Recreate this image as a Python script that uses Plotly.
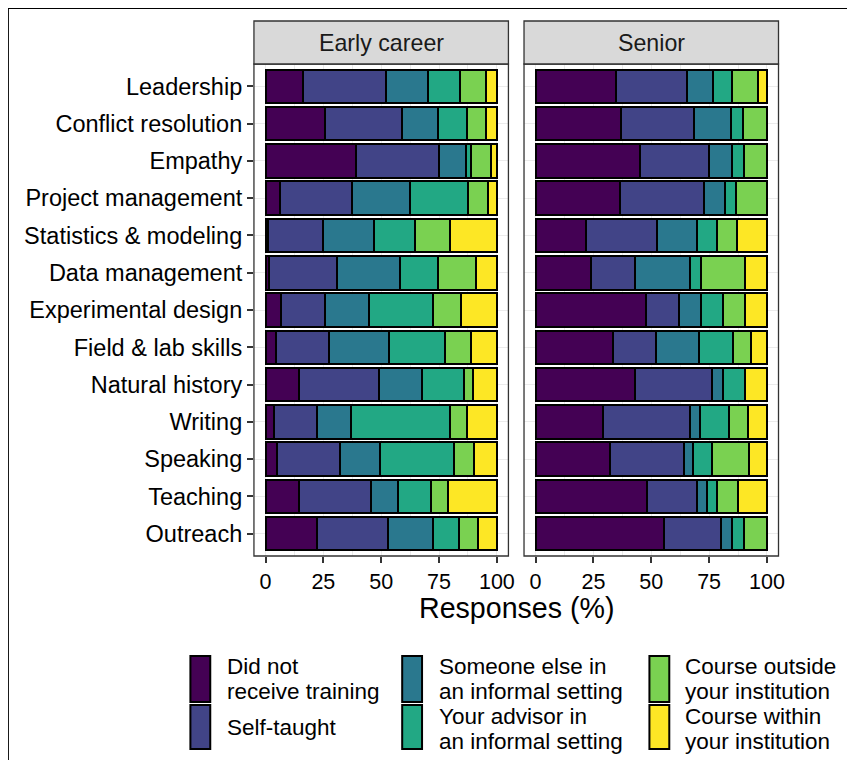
import plotly.graph_objects as go

# The page body adds an 8px margin, so the figure is drawn 8px smaller and
# all pixel positions below are given in window coordinates.
OFF = 8
W, H = 855 - OFF, 760 - OFF

skills = ["Leadership", "Conflict resolution", "Empathy", "Project management",
          "Statistics & modeling", "Data management", "Experimental design",
          "Field & lab skills", "Natural history", "Writing", "Speaking",
          "Teaching", "Outreach"]

sources = ["Did not receive training", "Self-taught",
           "Someone else in an informal setting", "Your advisor in an informal setting",
           "Course outside your institution", "Course within your institution"]

legend_lines = [["Did not", "receive training"], ["Self-taught"],
                ["Someone else in", "an informal setting"], ["Your advisor in", "an informal setting"],
                ["Course outside", "your institution"], ["Course within", "your institution"]]

colors = ["#440154", "#414487", "#2A788E", "#22A884", "#7AD151", "#FDE725"]

panels = ["Early career", "Senior"]

# Early career values (%), per source, in the order of `skills`
early_none = [16.0, 25.6, 38.9, 6.1, 1.1, 1.6, 6.7, 4.7, 14.3, 3.6, 5.1, 14.3, 22.3]
early_self = [36.0, 33.4, 36.2, 31.3, 23.6, 29.4, 19.0, 22.9, 34.7, 18.7, 27.2, 31.1, 30.6]
early_someone = [18.4, 15.4, 11.5, 25.2, 22.0, 27.3, 19.2, 25.7, 18.6, 14.7, 17.0, 11.7, 19.4]
early_advisor = [13.7, 12.9, 2.4, 25.1, 17.9, 16.4, 27.7, 24.3, 18.4, 42.9, 32.1, 14.5, 11.3]
early_outside = [11.3, 7.8, 8.6, 8.3, 15.0, 16.4, 12.1, 11.1, 3.7, 7.2, 8.7, 7.1, 8.3]
early_within = [4.6, 4.9, 2.4, 4.0, 20.4, 8.9, 15.3, 11.3, 10.3, 12.9, 9.9, 21.3, 8.1]

# Senior values (%)
senior_none = [34.7, 37.0, 45.1, 36.4, 21.7, 23.9, 47.9, 33.6, 43.1, 29.3, 32.0, 48.0, 55.4]
senior_self = [30.7, 31.6, 30.0, 36.5, 30.7, 19.1, 14.1, 18.4, 33.3, 37.6, 32.3, 21.6, 24.6]
senior_someone = [11.5, 15.7, 10.0, 9.1, 17.5, 23.9, 9.6, 18.6, 4.7, 4.1, 3.8, 4.4, 5.1]
senior_advisor = [8.0, 5.4, 5.0, 4.6, 8.7, 4.7, 9.5, 14.8, 9.6, 12.6, 8.2, 4.6, 5.0]
senior_outside = [11.4, 10.3, 9.9, 13.4, 8.5, 19.1, 9.6, 7.5, 0.0, 8.3, 16.0, 8.7, 9.9]
senior_within = [3.7, 0.0, 0.0, 0.0, 12.9, 9.3, 9.3, 7.1, 9.3, 8.1, 7.7, 12.7, 0.0]

x_ticks = [0, 25, 50, 75, 100]

panel_data = {
    "Early career": [early_none, early_self, early_someone, early_advisor, early_outside, early_within],
    "Senior": [senior_none, senior_self, senior_someone, senior_advisor, senior_outside, senior_within],
}

FONT = "Liberation Sans, Arial, sans-serif"


def px(x):
    return (x - OFF) / W


def py(y):
    return 1 - (y - OFF) / H


# panel geometry (window pixels)
panel_x = [(255.7, 512.0), (527.7, 784.0)]
panel_top, panel_bot = 64.0, 556.0
strip_top = 21.0

fig = go.Figure()

for pi, pname in enumerate(panels):
    xa = "x" if pi == 0 else "x2"
    ya = "y" if pi == 0 else "y2"
    for si, src in enumerate(sources):
        vals = [v if v > 0 else None for v in panel_data[pname][si]]
        fig.add_trace(go.Bar(
            x=vals, y=skills, orientation="h", name=src,
            xaxis=xa, yaxis=ya, width=0.9,
            marker=dict(color=colors[si], line=dict(color="black", width=2)),
            showlegend=False,
        ))

common_x = dict(range=[-5, 105], tickvals=x_ticks, ticktext=[str(t) for t in x_ticks],
                showgrid=True, gridcolor="#EBEBEB", gridwidth=1.2,
                minor=dict(dtick=12.5, tick0=0, showgrid=True, gridcolor="#EBEBEB", gridwidth=0.6),
                ticks="outside", ticklen=6, tickwidth=1.5, tickcolor="#333333",
                tickfont=dict(family=FONT, size=21.5, color="black"),
                zeroline=False, showline=False, fixedrange=True)
common_y = dict(categoryorder="array", categoryarray=skills[::-1], range=[-0.6, 12.6],
                showgrid=True, gridcolor="#EBEBEB", gridwidth=1.2,
                zeroline=False, showline=False, fixedrange=True,
                domain=[py(panel_bot), py(panel_top)])

fig.update_layout(
    width=W, height=H, margin=dict(l=0, r=0, t=0, b=0),
    paper_bgcolor="white", plot_bgcolor="white",
    barmode="stack", bargap=0.1,
    showlegend=False,
    xaxis=dict(domain=[px(panel_x[0][0]), px(panel_x[0][1])], anchor="y", **common_x),
    xaxis2=dict(domain=[px(panel_x[1][0]), px(panel_x[1][1])], anchor="y2", **common_x),
    yaxis=dict(anchor="x", ticks="outside", ticklen=6, tickwidth=1.5, tickcolor="#333333",
               tickfont=dict(family=FONT, size=23.5, color="black"), **common_y),
    yaxis2=dict(anchor="x2", matches="y", showticklabels=False, ticks="", **common_y),
)

shapes = []
annotations = []
for pi, pname in enumerate(panels):
    x0, x1 = panel_x[pi]
    # panel border
    shapes.append(dict(type="rect", xref="paper", yref="paper",
                       x0=px(x0), x1=px(x1), y0=py(panel_bot), y1=py(panel_top),
                       line=dict(color="#333333", width=1.3), fillcolor="rgba(0,0,0,0)", layer="above"))
    # strip
    shapes.append(dict(type="rect", xref="paper", yref="paper",
                       x0=px(x0), x1=px(x1), y0=py(panel_top), y1=py(strip_top),
                       line=dict(color="#333333", width=1.3), fillcolor="#D9D9D9", layer="above"))
    annotations.append(dict(text=pname, xref="paper", yref="paper",
                            x=px((x0 + x1) / 2), y=py((strip_top + panel_top) / 2),
                            xanchor="center", yanchor="middle", showarrow=False,
                            font=dict(family=FONT, size=23.2, color="#1A1A1A")))

# outer border (left and top edges visible)
shapes.append(dict(type="rect", xref="paper", yref="paper",
                   x0=px(8.2), x1=px(W + 30), y0=py(H + 30), y1=py(8.2),
                   line=dict(color="black", width=1.4), fillcolor="rgba(0,0,0,0)"))

# x axis title
annotations.append(dict(text="Responses (%)", xref="paper", yref="paper",
                        x=px(520), y=py(608), xanchor="center", yanchor="middle", showarrow=False,
                        font=dict(family=FONT, size=28.6, color="black")))

# legend (3 columns x 2 rows)
col_key_x = [191.7, 405.0, 654.0]
col_text_x = [228.0, 441.5, 689.0]
row_key_y = [(656.0, 702.0), (705.0, 749.0)]
row_line_y = {0: [666.0, 691.3], 1: [716.6, 741.9]}
for si, src in enumerate(sources):
    c, r = si // 2, si % 2
    k0, k1 = col_key_x[c], col_key_x[c] + 20
    y0, y1 = row_key_y[r]
    shapes.append(dict(type="rect", xref="paper", yref="paper",
                       x0=px(k0), x1=px(k1), y0=py(y1), y1=py(y0),
                       line=dict(color="black", width=2), fillcolor=colors[si]))
    lines = legend_lines[si]
    ys = row_line_y[r] if len(lines) == 2 else [(y0 + y1) / 2]
    for txt, ly in zip(lines, ys):
        annotations.append(dict(text=txt, xref="paper", yref="paper",
                                x=px(col_text_x[c]), y=py(ly), xanchor="left", yanchor="middle",
                                showarrow=False, borderpad=0,
                                font=dict(family=FONT, size=22.5, color="black")))

fig.update_layout(shapes=shapes, annotations=annotations)

fig.write_html("out.html")
